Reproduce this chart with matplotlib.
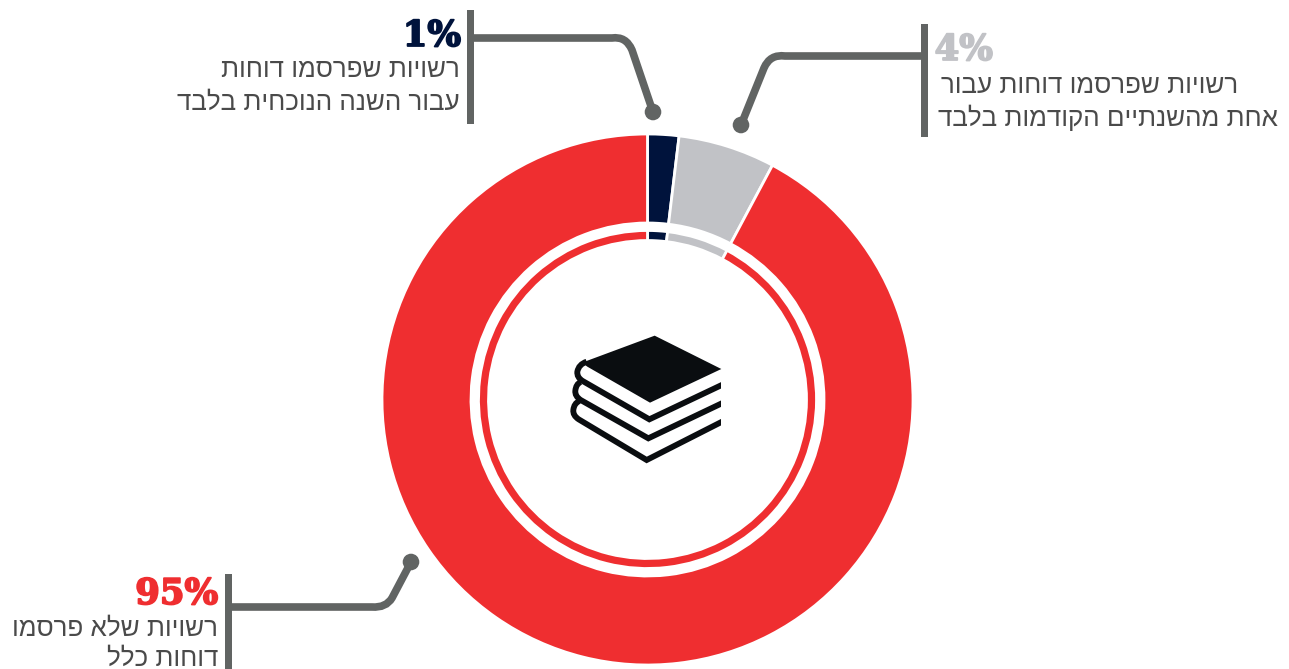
import matplotlib
matplotlib.use("Agg")
import matplotlib.patheffects as pe
import matplotlib.pyplot as plt
from matplotlib.patches import Circle, PathPatch, Polygon, Rectangle
from matplotlib.path import Path

W, H = 1289, 669

# shares as drawn in the ring (the drawn arcs differ from the printed labels)
arc_names = ["current year only", "one of the previous years", "none"]
arc_values = [1.9, 5.9, 92.2]
arc_colors = ["#00133C", "#C1C2C6", "#EF2E30"]

percent_labels = ["1%", "4%", "95%"]
label_lines = [
    ["רשויות שפרסמו דוחות", "עבור השנה הנוכחית בלבד"],
    ["רשויות שפרסמו דוחות עבור", "אחת מהשנתיים הקודמות בלבד"],
    ["רשויות שלא פרסמו", "דוחות כלל"],
]

GRAY = "#616463"
TEXT = "#4A4A4A"
INK = "#0A0D10"
HEB_FONT = ["Liberation Sans", "DejaVu Sans"]
CX, CY = 647.5, 399.5


def py(y):
    # picture pixels run downwards, the axes run upwards
    return H - y


def visual(s):
    # matplotlib has no bidi support, so Hebrew goes in reversed
    return s[::-1]


def leader(ax, bar_x, bar_top, bar_bottom, start, corner, bend_a, bend_b, dot):
    ax.add_patch(Rectangle((bar_x, py(bar_bottom)), 7.5, bar_bottom - bar_top,
                           fc=GRAY, ec="none", zorder=3))
    verts = [start, bend_a, corner, bend_b, dot]
    verts = [(x, py(y)) for x, y in verts]
    codes = [Path.MOVETO, Path.LINETO, Path.CURVE3, Path.CURVE3, Path.LINETO]
    ax.add_patch(PathPatch(Path(verts, codes), fc="none", ec=GRAY, lw=5.5,
                           capstyle="butt", zorder=3))
    ax.add_patch(Circle((dot[0], py(dot[1])), 8.3, fc=GRAY, ec="none", zorder=3))


def book_icon(ax):
    def pt(zx, zy):
        return (560 + zx / 3, py(320 + zy / 3))

    cover = [pt(284, 47), pt(484, 147), pt(270, 248), pt(82, 140), pt(66, 128)]
    ax.add_patch(Polygon(cover, closed=True, fc=INK, ec="none", zorder=4))
    clip = Rectangle((560, py(480)), (484 / 3), 160, transform=ax.transData)
    pages = [
        [(80, 125), (56, 133), (52, 155), (50, 172), (68, 183),
         (268, 298), (500, 188)],
        [(62, 186), (48, 192), (46, 212), (44, 228), (62, 240),
         (265, 355), (500, 243)],
        [(58, 243), (42, 250), (40, 270), (38, 286), (56, 298),
         (260, 420), (500, 298)],
    ]
    for page in pages:
        verts = [pt(*p) for p in page]
        codes = [Path.MOVETO, Path.CURVE3, Path.CURVE3, Path.CURVE3,
                 Path.CURVE3, Path.LINETO, Path.LINETO]
        patch = PathPatch(Path(verts, codes), fc="none", ec=INK, lw=4.2,
                          joinstyle="miter", capstyle="butt", zorder=4)
        ax.add_patch(patch)
        patch.set_clip_path(clip)


fig = plt.figure(figsize=(W / 100, H / 100), dpi=100)
ax = fig.add_axes([0, 0, 1, 1])

wedge_style = {"edgecolor": "white", "linewidth": 2.0}
ax.pie(arc_values, colors=arc_colors, startangle=90, counterclock=False,
       radius=265.5, center=(CX, py(CY)),
       wedgeprops={"width": 89, **wedge_style})
ax.pie(arc_values, colors=arc_colors, startangle=90, counterclock=False,
       radius=169, center=(CX, py(CY)),
       wedgeprops={"width": 10, **wedge_style})

ax.set_xlim(0, W)
ax.set_ylim(0, H)
ax.set_aspect("equal")
ax.axis("off")

leader(ax, 466.5, 10, 124, (470, 38), (626, 36), (612, 38), (632, 50), (653, 112))
leader(ax, 920.5, 24, 137, (924, 56), (770, 54), (785, 56), (764, 68), (741, 125))
leader(ax, 224.5, 574, 669, (228, 607), (386, 608), (372, 607), (392, 598), (411, 562))

pct_pos = [(461, 36), (993, 50), (218, 594)]
pct_colors = ["#00133C", "#C1C2C6", "#EF2E30"]
for label, (x, y), color in zip(percent_labels, pct_pos, pct_colors):
    t = ax.text(x, py(y), label, family="DejaVu Serif", weight="bold", fontsize=25.5,
                color=color, ha="right", va="center", zorder=5)
    t.set_path_effects([pe.withStroke(linewidth=1.3, foreground=color)])

text_right = [460, 1238, 218]
text_y = [(70, 103), (86, 118), (629, 659)]
for i, lines in enumerate(label_lines):
    for j, line in enumerate(lines):
        x = text_right[i]
        if i == 1 and j == 1:
            x = 1278
        ax.text(x, py(text_y[i][j]), visual(line), family=HEB_FONT, fontsize=18.7,
                color=TEXT, ha="right", va="center", zorder=5)

book_icon(ax)

fig.savefig("out.png", dpi=100, facecolor="white")
